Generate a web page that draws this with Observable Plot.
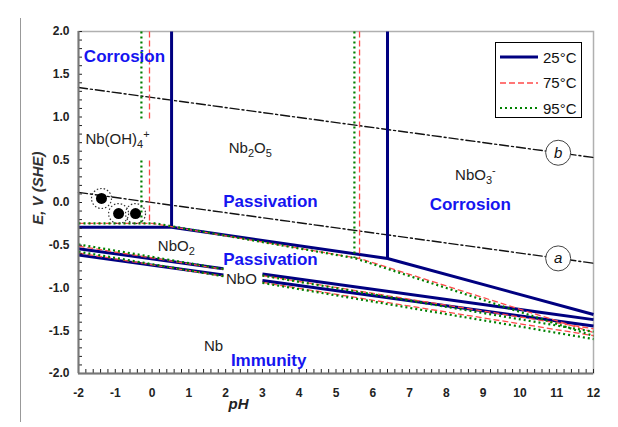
<!DOCTYPE html>
<html><head><meta charset="utf-8">
<script src="https://cdn.jsdelivr.net/npm/d3@7"></script>
<script src="https://cdn.jsdelivr.net/npm/@observablehq/plot@0.6"></script>
<style>
body{margin:0;background:#fff;font-family:"Liberation Sans",Arial,sans-serif;}
#wrap{position:relative;width:618px;height:427px;overflow:hidden;}
#frame{position:absolute;left:20px;top:18px;width:0;height:404px;border-left:1px solid #999;}
#legend{position:absolute;left:495px;top:42px;width:87px;height:76px;border:1.5px solid #000;background:#fff;box-sizing:border-box;}
#legend .row{position:absolute;left:4px;height:20px;display:flex;align-items:center;font-size:15px;color:#111;}
#legend svg{margin-right:3px;}
</style></head><body>
<div id="wrap"><div id="chart"></div><div id="frame"></div><div id="legend"></div></div>
<script>
// ---- data (pH, E in V vs SHE) ----
const temperatures = ["25°C", "75°C", "95°C"];
const segments25 = [
  [[0.53, 2.0], [0.53, -0.29]],
  [[-2, -0.29], [0.53, -0.29], [6.40, -0.655], [12, -1.31]],
  [[6.40, 2.0], [6.40, -0.655]],
  [[-2, -0.54], [1.94, -0.774]],
  [[3.0, -0.837], [12, -1.37]],
  [[-2, -0.615], [1.94, -0.849]],
  [[3.0, -0.911], [12, -1.445]]
];
const segments75 = [
  [[-0.07, 2.0], [-0.07, 0.96]],
  [[-0.07, 0.49], [-0.07, -0.245]],
  [[-2, -0.245], [0.0, -0.245], [5.64, -0.655], [12, -1.52]],
  [[5.64, 2.0], [5.64, -0.655]],
  [[-2, -0.51], [1.94, -0.782]],
  [[3.0, -0.855], [12, -1.477]],
  [[-2, -0.59], [1.94, -0.862]],
  [[3.0, -0.935], [12, -1.557]]
];
const segments95 = [
  [[-0.29, 2.0], [-0.29, 0.96]],
  [[-0.29, 0.49], [-0.29, -0.245]],
  [[-2, -0.245], [0.1, -0.245], [5.50, -0.65], [12, -1.56]],
  [[5.50, 2.0], [5.50, -0.65]],
  [[-2, -0.49], [1.94, -0.778]],
  [[3.0, -0.855], [12, -1.512]],
  [[-2, -0.575], [1.94, -0.863]],
  [[3.0, -0.94], [12, -1.597]]
];
const waterA = [[-2, 0.118], [12, -0.71]];
const waterB = [[-2, 1.345], [12, 0.526]];
const waterTags = [{name: "b", pH: 11.04, E: 0.582}, {name: "a", pH: 11.04, E: -0.654}];
const markers = [{pH: -1.375, E: 0.047}, {pH: -0.91, E: -0.13}, {pH: -0.45, E: -0.13}];
const regionLabels = [
  {text: "Corrosion", pH: -0.75, E: 1.71},
  {text: "Passivation", pH: 3.22, E: 0.01},
  {text: "Corrosion", pH: 8.65, E: -0.02},
  {text: "Passivation", pH: 3.22, E: -0.67},
  {text: "Immunity", pH: 3.17, E: -1.85}
];
const speciesLabels = [
  {text: "Nb(OH)_4^+", pH: -0.94, E: 0.74},
  {text: "Nb_2O_5", pH: 2.67, E: 0.63},
  {text: "NbO_3^-", pH: 8.79, E: 0.32},
  {text: "NbO_2", pH: 0.66, E: -0.51},
  {text: "NbO", pH: 2.43, E: -0.90},
  {text: "Nb", pH: 1.67, E: -1.68}
];
const xTicks = d3.range(-2, 13, 1);
const yTicks = [-2.0, -1.5, -1.0, -0.5, 0.0, 0.5, 1.0, 1.5, 2.0];

// ---- styles ----
const styles = {
  "25°C": {stroke: "#000080", strokeWidth: 3, strokeDasharray: null},
  "75°C": {stroke: "#ff4a4a", strokeWidth: 1.3, strokeDasharray: "6,3"},
  "95°C": {stroke: "#008000", strokeWidth: 2.2, strokeDasharray: "2,3"}
};

function rows(segs, t) {
  const out = [];
  segs.forEach((s, i) => s.forEach(([pH, E]) => out.push({t, id: t + i, pH, E})));
  return out;
}
const lineRows = [
  ...rows(segments25, "25°C"), ...rows(segments75, "75°C"), ...rows(segments95, "95°C")
];
const waterRows = [
  ...waterA.map(([pH, E]) => ({id: "a", pH, E})),
  ...waterB.map(([pH, E]) => ({id: "b", pH, E}))
];
const xMinor = d3.range(-2, 12.0001, 0.2);
const yMinor = d3.range(-2, 2.0001, 0.1);

const font = "'Liberation Sans', Arial, sans-serif";
const tempMarks = temperatures.map(t => Plot.line(lineRows.filter(d => d.t === t), {
  x: "pH", y: "E", z: "id", stroke: styles[t].stroke, strokeWidth: styles[t].strokeWidth,
  strokeDasharray: styles[t].strokeDasharray, strokeLinecap: "butt"
}));

const chart = Plot.plot({
  width: 618, height: 427,
  marginLeft: 78, marginRight: 25, marginTop: 31, marginBottom: 54,
  x: {domain: [-2, 12]}, y: {domain: [-2, 2]},
  style: {fontFamily: font, background: "white", color: "#222"},
  marks: [
    Plot.frame({stroke: "#b0b0b0", strokeWidth: 1.5}),
    Plot.line(waterRows, {x: "pH", y: "E", z: "id", stroke: "#111", strokeWidth: 1.4, strokeDasharray: "9,3,2,3"}),
    ...tempMarks,
    Plot.dot(markers, {x: "pH", y: "E", r: 10, stroke: "#333", strokeWidth: 1.2, strokeDasharray: "1.5,2", fill: "none"}),
    Plot.dot(markers, {x: "pH", y: "E", r: 5.5, fill: "#000"}),
    Plot.dot(waterTags, {x: "pH", y: "E", r: 12.5, fill: "white", stroke: "#444", strokeWidth: 1}),
    Plot.text(waterTags, {x: "pH", y: "E", text: "name", fontSize: 15, fontStyle: "italic", fill: "#111"}),
    Plot.text(regionLabels, {x: "pH", y: "E", text: "text", fontSize: 17, fontWeight: "bold", fill: "#1515f0"}),
    Plot.text(speciesLabels, {x: "pH", y: "E", text: "text", fontSize: 15, fill: "#222"}),
    Plot.ruleX(xMinor, {x: d => d, insetTop: 338, stroke: "#222", strokeWidth: 1}),
    Plot.ruleY(yMinor, {y: d => d, insetRight: 511, stroke: "#222", strokeWidth: 1}),
    Plot.ruleX([-2], {stroke: "#777", strokeWidth: 2}),
    Plot.ruleY([-2], {stroke: "#777", strokeWidth: 2}),
    Plot.axisX(xTicks, {tickSize: 0, tickPadding: 15, tickFormat: d => String(d), fontSize: 12, fontWeight: "bold", label: null}),
    Plot.axisY(yTicks, {tickSize: 0, tickPadding: 9, tickFormat: d => d.toFixed(1), fontSize: 12, fontWeight: "bold", label: null}),
    Plot.text(["pH"], {x: 2.35, frameAnchor: "bottom", dy: 35, fontSize: 15, fontWeight: "bold", fontStyle: "italic", fill: "#222"}),
    Plot.text(["E, V (SHE)"], {y: -0.26, frameAnchor: "left", dx: -40, rotate: -90, fontSize: 15, fontWeight: "bold", fontStyle: "italic", fill: "#333"})
  ]
});
document.getElementById("chart").appendChild(chart);

// sub/superscripts in species labels
chart.querySelectorAll("text").forEach(el => {
  const s = el.textContent;
  if (!/[_^]/.test(s) || el.querySelector("tspan")) return;
  el.textContent = "";
  let shift = 0, i = 0;
  const ns = "http://www.w3.org/2000/svg";
  while (i < s.length) {
    const c = s[i];
    const ts = document.createElementNS(ns, "tspan");
    if (c === "_" || c === "^") {
      const target = c === "_" ? 4 : -6;
      ts.setAttribute("dy", target - shift);
      ts.setAttribute("font-size", "11");
      ts.textContent = s[i + 1];
      shift = target; i += 2;
    } else {
      let j = i;
      while (j < s.length && s[j] !== "_" && s[j] !== "^") j++;
      ts.setAttribute("dy", -shift);
      ts.textContent = s.slice(i, j);
      shift = 0; i = j;
    }
    el.appendChild(ts);
  }
});

// legend
const legend = document.getElementById("legend");
temperatures.forEach((t, k) => {
  const row = document.createElement("div");
  row.className = "row";
  row.style.top = (4 + k * 25.5) + "px";
  const st = styles[t];
  row.innerHTML = `<svg width="40" height="6"><line x1="0" y1="3" x2="38" y2="3" stroke="${st.stroke}" stroke-width="${st.strokeWidth}" ${st.strokeDasharray ? `stroke-dasharray="${st.strokeDasharray}"` : ""}/></svg><span>${t}</span>`;
  legend.appendChild(row);
});
</script>
</body></html>
